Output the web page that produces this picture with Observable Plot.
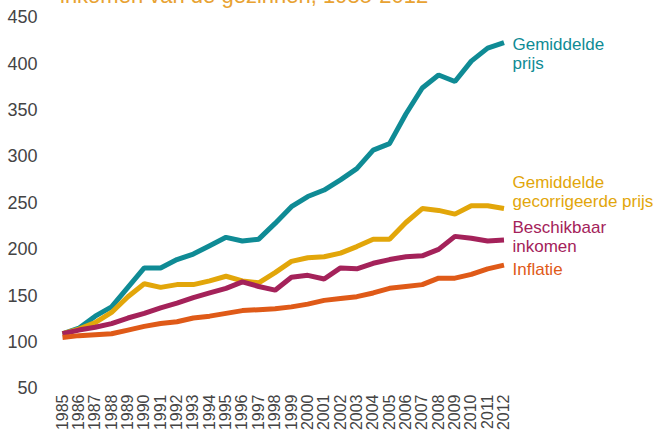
<!DOCTYPE html>
<html>
<head>
<meta charset="utf-8">
<script src="https://cdn.jsdelivr.net/npm/d3@7"></script>
<script src="https://cdn.jsdelivr.net/npm/@observablehq/plot@0.6"></script>
<style>
  html, body { margin: 0; padding: 0; background: white; overflow: hidden; }
  #wrap { position: relative; width: 662px; height: 437px; overflow: hidden; }
  #title { position: absolute; left: 60px; top: -17px; font-family: "Liberation Sans", Arial, sans-serif; font-size: 22px; color: #e8a232; white-space: nowrap; }
</style>
</head>
<body>
<div id="wrap">
  <div id="chart"></div>
  <div id="title">inkomen van de gezinnen, 1985-2012</div>
</div>
<script>
const years = [1985,1986,1987,1988,1989,1990,1991,1992,1993,1994,1995,1996,1997,1998,1999,2000,2001,2002,2003,2004,2005,2006,2007,2008,2009,2010,2011,2012];
const gemiddeldePrijs = [109,115,128,138,159,180,180,189,195,204,213,209,211,228,246,257,264,275,287,307,314,346,374,388,381,403,417,423];
const gecorrigeerdePrijs = [109,114,121,132,149,163,159,162,162,166,171,166,164,175,187,191,192,196,203,211,211,229,244,242,238,247,247,244];
const beschikbaarInkomen = [109,113,116,120,126,131,137,142,148,153,158,165,160,156,170,172,168,180,179,185,189,192,193,200,214,212,209,210];
const inflatie = [105,107,108,109,113,117,120,122,126,128,131,134,135,136,138,141,145,147,149,153,158,160,162,169,169,173,179,183];
const yTicks = [50,100,150,200,250,300,350,400,450];

const seriesNames = ["Gemiddelde prijs", "Gemiddelde gecorrigeerde prijs", "Beschikbaar inkomen", "Inflatie"];
const seriesLabels = ["Gemiddelde\nprijs", "Gemiddelde\ngecorrigeerde prijs", "Beschikbaar\ninkomen", "Inflatie"];
const seriesColors = ["#0f8b95", "#e2a60a", "#a4225a", "#df5a18"];
const labelDy = [11, -17, -3.5, 4];
const seriesValues = [gemiddeldePrijs, gecorrigeerdePrijs, beschikbaarInkomen, inflatie];

const rows = [];
seriesNames.forEach((s, i) => years.forEach((yr, j) => rows.push({series: s, year: yr, value: seriesValues[i][j]})));

const marks = [
  Plot.axisY({ticks: yTicks, tickSize: 0, tickPadding: 25, fontSize: 18, tickFormat: d => String(d), label: null}),
  Plot.axisX({ticks: years, tickFormat: d => String(d), tickRotate: -90, tickSize: 0, tickPadding: 6, fontSize: 16, label: null})
];
seriesNames.forEach((s, i) => {
  marks.push(Plot.line(rows.filter(r => r.series === s), {
    x: "year", y: "value", stroke: seriesColors[i], strokeWidth: 5,
    strokeLinejoin: "miter", strokeLinecap: "butt"
  }));
  const last = years.length - 1;
  marks.push(Plot.text([{year: years[last], value: seriesValues[i][last], label: seriesLabels[i]}], {
    x: "year", y: "value", text: "label", fill: seriesColors[i],
    textAnchor: "start", lineAnchor: "middle", dx: 8.5, dy: labelDy[i],
    fontSize: 17, lineHeight: 1.12
  }));
});

const chart = Plot.plot({
  width: 662,
  height: 437,
  marginLeft: 62,
  marginRight: 158.5,
  marginTop: 17,
  marginBottom: 49,
  x: {domain: [1985, 2012]},
  y: {domain: [50, 450]},
  style: {fontFamily: "'Liberation Sans', Arial, sans-serif", color: "#444", background: "white", overflow: "visible"},
  marks
});
document.getElementById("chart").appendChild(chart);
</script>
</body>
</html>
